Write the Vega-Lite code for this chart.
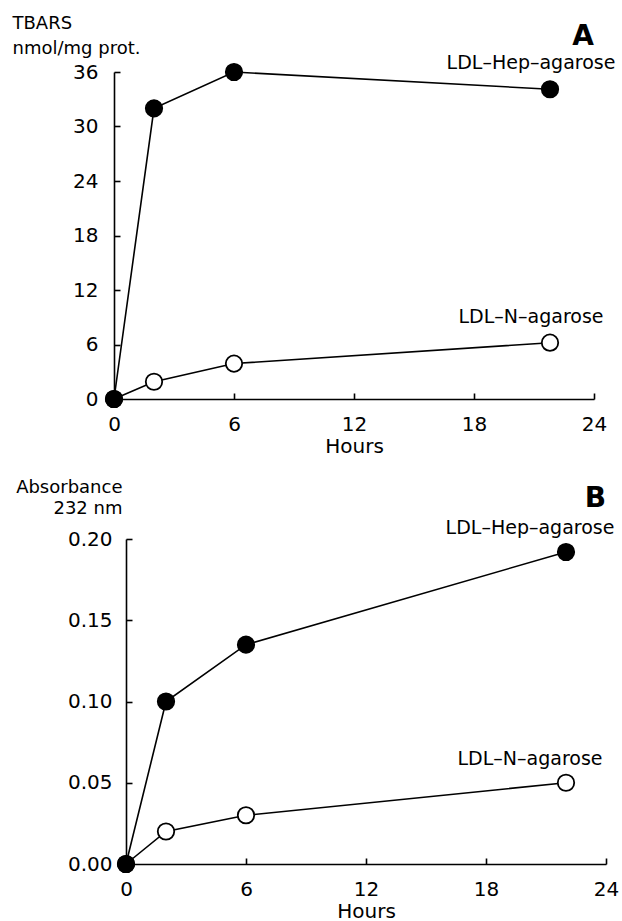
{
  "$schema": "https://vega.github.io/schema/vega-lite/v6.json",
  "padding": {"left": 12, "top": 14, "right": 2, "bottom": 2},
  "background": "white",
  "config": {
    "view": {"stroke": null},
    "font": "DejaVu Sans",
    "axis": {
      "domainColor": "black", "domainWidth": 1.6,
      "tickColor": "black", "tickWidth": 1.6, "tickSize": -6,
      "labelColor": "black", "labelFontSize": 20, "labelFont": "DejaVu Sans", "labelFlush": false, "labelOverlap": false,
      "titleColor": "black", "titleFontSize": 18, "titleFont": "DejaVu Sans", "titleFontWeight": "normal",
      "grid": false
    }
  },
  "datasets": {
    "pts": [
      {"panel": "A", "series": "LDL–N–agarose", "hours": 0, "value": 0},
      {"panel": "A", "series": "LDL–N–agarose", "hours": 2, "value": 1.9},
      {"panel": "A", "series": "LDL–N–agarose", "hours": 6, "value": 3.9},
      {"panel": "A", "series": "LDL–N–agarose", "hours": 21.8, "value": 6.2},
      {"panel": "B", "series": "LDL–N–agarose", "hours": 0, "value": 0},
      {"panel": "B", "series": "LDL–N–agarose", "hours": 2, "value": 0.02},
      {"panel": "B", "series": "LDL–N–agarose", "hours": 6, "value": 0.03},
      {"panel": "B", "series": "LDL–N–agarose", "hours": 22, "value": 0.05},
      {"panel": "A", "series": "LDL–Hep–agarose", "hours": 0, "value": 0},
      {"panel": "A", "series": "LDL–Hep–agarose", "hours": 2, "value": 32},
      {"panel": "A", "series": "LDL–Hep–agarose", "hours": 6, "value": 36},
      {"panel": "A", "series": "LDL–Hep–agarose", "hours": 21.8, "value": 34.1},
      {"panel": "B", "series": "LDL–Hep–agarose", "hours": 0, "value": 0},
      {"panel": "B", "series": "LDL–Hep–agarose", "hours": 2, "value": 0.1},
      {"panel": "B", "series": "LDL–Hep–agarose", "hours": 6, "value": 0.135},
      {"panel": "B", "series": "LDL–Hep–agarose", "hours": 22, "value": 0.192}
    ]
  },
  "columns": 1,
  "align": "none",
  "spacing": 22,
  "concat": [
    {
      "width": 492, "height": 327,
      "data": {"name": "pts"},
      "transform": [{"filter": "datum.panel == 'A'"}],
      "encoding": {
        "x": {"field": "hours", "type": "quantitative", "scale": {"domain": [0, 24], "nice": false, "range": [0, 480]},
              "axis": {"title": "Hours", "values": [0, 6, 12, 18, 24], "labelPadding": 21, "titlePadding": 2, "titleFontSize": 20}},
        "y": {"field": "value", "type": "quantitative", "scale": {"domain": [0, 36], "nice": false},
              "axis": {"title": ["TBARS", "nmol/mg prot."], "values": [0, 6, 12, 18, 24, 30, 36], "labelPadding": 22,
                       "titleAngle": 0, "titleAlign": "left", "titleBaseline": "alphabetic", "titleX": -102, "titleY": -43.5, "titleLineHeight": 25}}
      },
      "layer": [
        {"mark": {"type": "line", "color": "black", "strokeWidth": 1.6}, "encoding": {"detail": {"field": "series"}}},
        {"mark": {"type": "point", "shape": "circle", "size": 270, "filled": true, "stroke": "black", "strokeWidth": 1.8, "opacity": 1},
         "encoding": {"fill": {"field": "series", "type": "nominal", "scale": {"domain": ["LDL–Hep–agarose", "LDL–N–agarose"], "range": ["black", "white"]}, "legend": null}}},
        {"transform": [{"filter": "datum.hours > 20"}],
         "mark": {"type": "text", "fontSize": 19, "dx": -19, "dy": -26, "align": "center", "baseline": "middle", "color": "black"},
         "encoding": {"text": {"field": "series"}}},
        {"transform": [{"filter": "datum.hours > 20 && datum.series == 'LDL–Hep–agarose'"}],
         "mark": {"type": "text", "text": "A", "fontSize": 28, "fontWeight": "bold", "dy": -27, "align": "right", "baseline": "alphabetic", "color": "black"},
         "encoding": {"x": {"datum": 24, "type": "quantitative"}, "y": {"datum": 36, "type": "quantitative"}}}
      ]
    },
    {
      "width": 492, "height": 325,
      "data": {"name": "pts"},
      "transform": [{"filter": "datum.panel == 'B'"}],
      "encoding": {
        "x": {"field": "hours", "type": "quantitative", "scale": {"domain": [0, 24], "nice": false, "range": [12, 492]},
              "axis": {"title": "Hours", "values": [0, 6, 12, 18, 24], "labelPadding": 21, "titlePadding": 2, "titleFontSize": 20}},
        "y": {"field": "value", "type": "quantitative", "scale": {"domain": [0, 0.2], "nice": false},
              "axis": {"title": ["Absorbance", "232 nm"], "values": [0, 0.05, 0.1, 0.15, 0.2], "format": ".2f", "labelPadding": 20, "offset": -12,
                       "titleAngle": 0, "titleAlign": "right", "titleBaseline": "alphabetic", "titleX": -4, "titleY": -47, "titleLineHeight": 21}}
      },
      "layer": [
        {"mark": {"type": "line", "color": "black", "strokeWidth": 1.6}, "encoding": {"detail": {"field": "series"}}},
        {"mark": {"type": "point", "shape": "circle", "size": 270, "filled": true, "stroke": "black", "strokeWidth": 1.8, "opacity": 1},
         "encoding": {"fill": {"field": "series", "type": "nominal", "scale": {"domain": ["LDL–Hep–agarose", "LDL–N–agarose"], "range": ["black", "white"]}, "legend": null}}},
        {"transform": [{"filter": "datum.hours > 20"}],
         "mark": {"type": "text", "fontSize": 19, "dx": -36, "dy": -24, "align": "center", "baseline": "middle", "color": "black"},
         "encoding": {"text": {"field": "series"}}},
        {"transform": [{"filter": "datum.hours > 20 && datum.series == 'LDL–Hep–agarose'"}],
         "mark": {"type": "text", "text": "B", "fontSize": 28, "fontWeight": "bold", "dy": -32, "align": "right", "baseline": "alphabetic", "color": "black"},
         "encoding": {"x": {"datum": 24, "type": "quantitative"}, "y": {"datum": 0.2, "type": "quantitative"}}}
      ]
    }
  ]
}
